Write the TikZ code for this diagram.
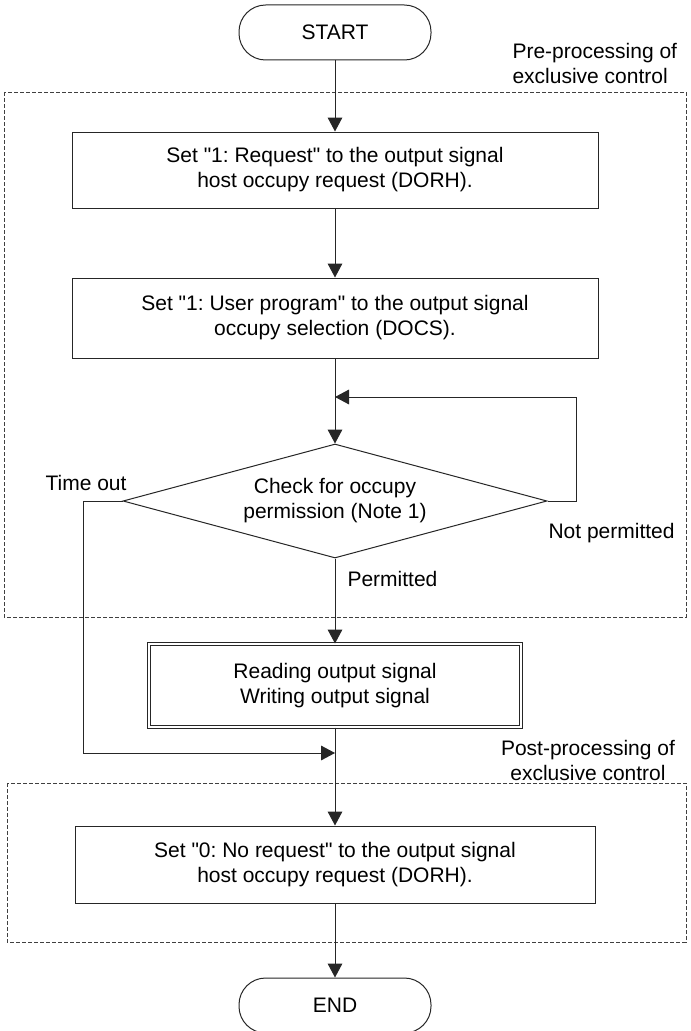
\documentclass[tikz,border=0pt]{standalone}
\usepackage{fontspec}
\setmainfont{Liberation Sans}[Ligatures=TeXOff]
\frenchspacing
\usetikzlibrary{arrows.meta,shapes.geometric}
\begin{document}
\begin{tikzpicture}[x=0.75pt,y=-0.75pt,
  line width=0.75pt,
  every node/.style={font=\fontsize{15.75pt}{18.75pt}\selectfont, inner sep=0pt, text=black},
  term/.style={draw=black!85, rectangle, rounded corners=20pt, minimum width=144pt, minimum height=41.25pt},
  proc/.style={draw=black!85, rectangle, align=center},
  dproc/.style={draw=black!85, rectangle, align=center, double, double distance=1.5pt},
  decision/.style={draw=black!85, diamond, aspect=3.7, align=center, minimum width=318pt, minimum height=85.5pt},
  arr/.style={draw=black!85, -{Triangle[length=10.5pt,width=11pt]}},
  grp/.style={draw=black!75, dash pattern=on 3pt off 1.5pt, line width=0.6pt}
]
\clip (0,0) rectangle (690,1031);
\fill[white] (0,0) rectangle (690,1031);

% group frames
\draw[grp] (4,92) rectangle (686,617);
\draw[grp] (7,783) rectangle (686,942);

% nodes
\node[term] (start) at (335,32.5) {START};
\node[proc, minimum width=394.5pt, minimum height=57pt] (b1) at (335,170)
  {Set "1: Request" to the output signal\\host occupy request (DORH).};
\node[proc, minimum width=394.5pt, minimum height=60pt] (b2) at (335,318)
  {Set "1: User program" to the output signal\\occupy selection (DOCS).};
\node[decision] (dec) at (335,501) {Check for occupy\\permission (Note 1)};
\node[dproc, minimum width=279pt, minimum height=62.25pt] (rw) at (335,685.5)
  {Reading output signal\\Writing output signal};
\node[proc, minimum width=390pt, minimum height=57.75pt] (b3) at (335,864.5)
  {Set "0: No request" to the output signal\\host occupy request (DORH).};
\node[term] (end) at (335,1005.5) {END};

% labels
\node[anchor=east] (timeout) at (127,483) {Time out};
\node[anchor=west] (notperm) at (548,533) {Not permitted};
\node[anchor=west] (perm) at (347,579) {Permitted};
\node[anchor=west, align=left] (pre) at (512,63) {Pre-processing of\\exclusive control};
\node[align=center] (post) at (588,760) {Post-processing of\\exclusive control};

% junction points
\coordinate (loop) at (335,397);
\coordinate (merge) at (335,753);

% connectors
\draw[arr] (start.south) -- (b1.north);
\draw[arr] (b1.south) -- (b2.north);
\draw[arr] (b2.south) -- (dec.north);
\draw[arr] (dec.east) -- ++(29,0) |- (loop);
\draw[arr] (dec.south) -- (rw.north);
\draw[arr] (dec.west) -- ++(-39,0) |- (merge);
\draw[arr] (rw.south) -- (b3.north);
\draw[arr] (b3.south) -- (end.north);
\end{tikzpicture}
\end{document}
